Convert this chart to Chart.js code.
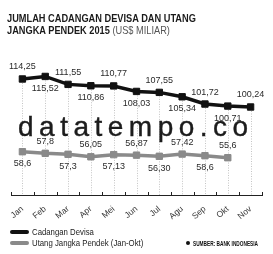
<!DOCTYPE html>
<html>
<head>
<meta charset="utf-8">
<script src="https://cdn.jsdelivr.net/npm/chart.js@4"></script>
<style>
  html, body { margin: 0; padding: 0; background: #fff; }
  #wrap { position: relative; width: 273px; height: 254px; overflow: hidden; }
  #myChart { position: absolute; left: 0; top: 0; }
  .title {
    position: absolute; left: 7px; top: 12px;
    font-family: 'Liberation Sans', sans-serif;
    font-weight: bold; font-size: 11px; line-height: 12px; color: #1a1a1a;
    white-space: nowrap; transform: scaleX(0.84); transform-origin: 0 0;
  }
  .title span { font-weight: normal; color: #555; }
  .watermark {
    position: absolute; left: 18px; top: 112px; width: 300px;
    font-family: 'Liberation Sans', sans-serif; font-size: 28px; line-height: 29px;
    letter-spacing: 5.5px; color: #1c1c1c; white-space: nowrap;
    -webkit-text-stroke: 0.4px #1c1c1c;
  }
  .legend {
    position: absolute; left: 10px; top: 227px;
    font-family: 'Liberation Sans', sans-serif;
    font-size: 9.5px; color: #222;
  }
  .legend div { height: 10.5px; line-height: 10.5px; display: flex; align-items: center; white-space: nowrap; }
  .legend i { display: inline-block; width: 19px; height: 4px; border-radius: 2px; margin-right: 3px; flex: none; }
  .legend span { display: inline-block; transform: scaleX(0.82); transform-origin: 0 50%; }
  .dot { position: absolute; left: 186px; top: 241px; width: 4px; height: 4px; border-radius: 2px; background: #111; }
  .source {
    position: absolute; left: 193px; top: 239px;
    font-family: 'Liberation Sans', sans-serif;
    font-weight: bold; font-size: 7px; line-height: 9px; color: #111; white-space: nowrap;
    transform: scaleX(0.68); transform-origin: 0 0;
  }
</style>
</head>
<body>
<div id="wrap">
  <canvas id="myChart" width="273" height="254"></canvas>
  <div class="title">JUMLAH CADANGAN DEVISA DAN UTANG<br>JANGKA PENDEK 2015 <span>(US$ MILIAR)</span></div>
  <div class="watermark">datatempo.co</div>
  <div class="legend" id="legend"></div>
  <div class="dot"></div>
  <div class="source">SUMBER: BANK INDONESIA</div>
</div>
<script>
const MONTHS = ['Jan', 'Feb', 'Mar', 'Apr', 'Mei', 'Jun', 'Jul', 'Agu', 'Sep', 'Okt', 'Nov'];

const SERIES_NAMES = ['Cadangan Devisa', 'Utang Jangka Pendek (Jan-Okt)'];
const SERIES_COLORS = ['#111111', '#8a8a8a'];

const RESERVES = [114.25, 115.52, 111.55, 110.86, 110.77, 108.03, 107.55, 105.34, 101.72, 100.71, 100.24];
const RESERVE_LABELS = ['114,25', '115,52', '111,55', '110,86', '110,77', '108,03', '107,55', '105,34', '101,72', '100,71', '100,24'];

// Sep is printed as 58,6 but the point sits near 56,6
const DEBT = [58.6, 57.8, 57.3, 56.05, 57.13, 56.87, 56.3, 57.42, 56.6, 55.6, null];
const DEBT_LABELS = ['58,6', '57,8', '57,3', '56,05', '57,13', '56,87', '56,30', '57,42', '58,6', '55,6', ''];

const LABEL_FONT = '9px "Liberation Sans", sans-serif';

const context = document.getElementById('myChart').getContext('2d');

// dotted drop lines from the reserve points + inward ticks on the axis
const dropLines = {
  id: 'dropLines',
  beforeDatasetsDraw(chart) {
    const { ctx, chartArea } = chart;
    const meta = chart.getDatasetMeta(0);
    const xScale = chart.scales.x;
    ctx.save();
    ctx.strokeStyle = '#c4c4c4';
    ctx.lineWidth = 1;
    ctx.setLineDash([1, 1.5]);
    meta.data.forEach(pt => {
      ctx.beginPath();
      ctx.moveTo(Math.round(pt.x) + 0.5, pt.y + 4);
      ctx.lineTo(Math.round(pt.x) + 0.5, chartArea.bottom);
      ctx.stroke();
    });
    ctx.setLineDash([]);
    ctx.strokeStyle = '#222';
    const step = (xScale.right - xScale.left) / MONTHS.length;
    for (let i = 0; i <= MONTHS.length; i++) {
      const x = Math.round(xScale.left + i * step) + 0.5;
      ctx.beginPath();
      ctx.moveTo(x, chartArea.bottom);
      ctx.lineTo(x, chartArea.bottom - 3);
      ctx.stroke();
    }
    ctx.restore();
  },
};

// value labels, alternating above / below the points
const valueLabels = {
  id: 'valueLabels',
  afterDatasetsDraw(chart) {
    const { ctx } = chart;
    const texts = [RESERVE_LABELS, DEBT_LABELS];
    ctx.save();
    ctx.font = LABEL_FONT;
    ctx.fillStyle = '#2a2a2a';
    ctx.textAlign = 'center';
    ctx.textBaseline = 'middle';
    chart.data.datasets.forEach((ds, d) => {
      chart.getDatasetMeta(d).data.forEach((pt, i) => {
        if (ds.data[i] == null) return;
        const up = d === 0 ? i % 2 === 0 : i % 2 === 1;
        ctx.fillText(texts[d][i], pt.x, up ? pt.y - 12 : pt.y + 12);
      });
    });
    ctx.restore();
  },
};

drawChart();
drawLegend();

function drawChart() {
  new Chart(context, {
    type: 'line',
    data: {
      labels: MONTHS,
      datasets: [
        {
          label: SERIES_NAMES[0],
          data: RESERVES,
          yAxisID: 'yTop',
          borderColor: SERIES_COLORS[0],
          backgroundColor: SERIES_COLORS[0],
          borderWidth: 3.5,
          pointStyle: 'rect',
          pointRadius: 4.5,
          pointBorderWidth: 1,
          tension: 0,
        },
        {
          label: SERIES_NAMES[1],
          data: DEBT,
          yAxisID: 'yBottom',
          borderColor: SERIES_COLORS[1],
          backgroundColor: SERIES_COLORS[1],
          borderWidth: 3.5,
          pointStyle: 'rect',
          pointRadius: 4.5,
          pointBorderWidth: 1,
          tension: 0,
        },
      ],
    },
    options: {
      responsive: false,
      animation: false,
      layout: { padding: { top: 60, left: 11, right: 11, bottom: 29 } },
      plugins: { legend: { display: false }, tooltip: { enabled: false } },
      scales: {
        x: {
          offset: true,
          grid: { display: false },
          border: { display: true, color: '#222', width: 1 },
          ticks: {
            autoSkip: false,
            minRotation: 40,
            maxRotation: 40,
            padding: 1,
            color: '#333',
            font: { family: 'Liberation Sans', size: 8.5 },
          },
          afterFit(scale) {
            scale.height = 30;
            scale.paddingLeft = 0;
            scale.paddingRight = 0;
          },
        },
        yTop: { display: false, min: 56.24, max: 123.74 },
        yBottom: { display: false, min: 36.95, max: 104.45 },
      },
    },
    plugins: [dropLines, valueLabels],
  });
}

function drawLegend() {
  const legend = document.getElementById('legend');
  SERIES_NAMES.forEach((name, i) => {
    const row = document.createElement('div');
    row.innerHTML = `<i style="background:${SERIES_COLORS[i]}"></i><span>${name}</span>`;
    legend.appendChild(row);
  });
}
</script>
</body>
</html>
